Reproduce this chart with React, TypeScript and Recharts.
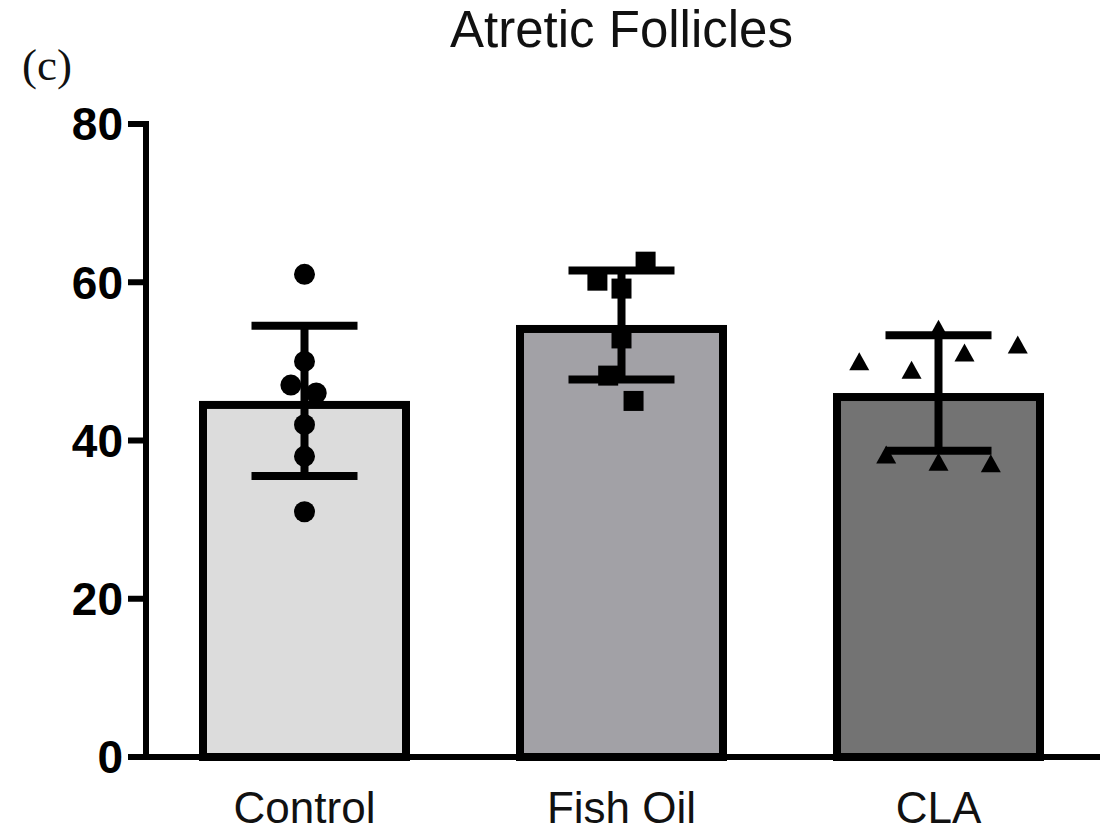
import { Bar, Cell, ComposedChart, ErrorBar, Scatter, XAxis, YAxis } from "recharts"

const groups = ["Control", "Fish Oil", "CLA"]
const means = [45, 54.6, 46]
const sds = [9.5, 6.9, 7.3]
const yTicks = [0, 20, 40, 60, 80]

// individual values per group; jitter is a small offset on the numeric x axis
const controlValues = [61, 50, 47, 46, 42, 38, 31]
const controlJitter = [0, 0, -0.043, 0.037, 0, 0, 0]
const fishOilValues = [62.6, 60.2, 59.2, 52.9, 48.2, 45]
const fishOilJitter = [0.076, -0.076, 0, 0, -0.042, 0.038]
const claValues = [54, 52, 51, 49.9, 48.8, 38.1, 37.2, 37]
const claJitter = [0, 0.25, 0.082, -0.25, -0.085, -0.165, 0, 0.165]

const barFills = ["#dcdcdc", "#a2a1a6", "#737373"]
const FONT = "'Liberation Sans', Arial, Helvetica, sans-serif"
const BORDER = 8

const barData = groups.map((group, i) => ({ group, value: means[i], sd: sds[i] }))

const toPoints = (groupIndex: number, values: number[], jitter: number[]) =>
  values.map((value, i) => ({ x: groupIndex + 0.5 + jitter[i], value }))

const controlPoints = toPoints(0, controlValues, controlJitter)
const fishOilPoints = toPoints(1, fishOilValues, fishOilJitter)
const claPoints = toPoints(2, claValues, claJitter)

// outline drawn inside the bar so the outer edge sits on the mean
const OutlinedBar = (props: any) => {
  const { x, y, width, height, fill } = props
  if (width == null || height == null) return null
  return (
    <rect
      x={x + BORDER / 2}
      y={y + BORDER / 2}
      width={Math.max(width - BORDER, 0)}
      height={Math.max(height - BORDER / 2, 0)}
      fill={fill}
      stroke="#000"
      strokeWidth={BORDER}
    />
  )
}

const Dot = (props: any) => <circle cx={props.cx} cy={props.cy} r={10.5} fill="#000" />

const Square = (props: any) => (
  <rect x={props.cx - 10} y={props.cy - 10} width={20} height={20} fill="#000" />
)

const Triangle = (props: any) => {
  const { cx, cy } = props
  return <polygon points={`${cx},${cy - 10} ${cx - 10},${cy + 8} ${cx + 10},${cy + 8}`} fill="#000" />
}

export default function App() {
  return (
    <div style={{ position: "absolute", left: 0, top: 0, width: 1112, height: 834, background: "#fff" }}>
      <ComposedChart
        width={1112}
        height={834}
        data={barData}
        margin={{ top: 124, right: 15, bottom: 0, left: 0 }}
      >
        <XAxis
          xAxisId="cat"
          dataKey="group"
          height={77}
          interval={0}
          tickLine={false}
          tickSize={0}
          tickMargin={35}
          axisLine={{ stroke: "#000", strokeWidth: 6, strokeLinecap: "square" }}
          tick={{ fill: "#111", fontSize: 44, fontFamily: FONT }}
        />
        <XAxis xAxisId="num" type="number" dataKey="x" domain={[0, 3]} allowDataOverflow hide />
        <YAxis
          dataKey="value"
          domain={[0, 80]}
          ticks={yTicks}
          interval={0}
          width={146}
          tickSize={18}
          tickMargin={5}
          axisLine={{ stroke: "#000", strokeWidth: 6, strokeLinecap: "square" }}
          tickLine={{ stroke: "#000", strokeWidth: 6 }}
          tick={{ fill: "#000", fontSize: 46, fontWeight: 700, fontFamily: FONT }}
        />
        <Bar xAxisId="cat" dataKey="value" barSize={211} shape={OutlinedBar} isAnimationActive={false}>
          {barData.map((d, i) => (
            <Cell key={d.group} fill={barFills[i]} />
          ))}
          <ErrorBar dataKey="sd" direction="y" width={53} stroke="#000" strokeWidth={8} isAnimationActive={false} />
        </Bar>
        <Scatter xAxisId="num" data={controlPoints} dataKey="value" shape={Dot} isAnimationActive={false} />
        <Scatter xAxisId="num" data={fishOilPoints} dataKey="value" shape={Square} isAnimationActive={false} />
        <Scatter xAxisId="num" data={claPoints} dataKey="value" shape={Triangle} isAnimationActive={false} />
      </ComposedChart>
      <svg width={1112} height={834} style={{ position: "absolute", left: 0, top: 0, pointerEvents: "none" }}>
        <text x={621.5} y={47} textAnchor="middle" fontSize={51} fontFamily={FONT} fill="#111">
          Atretic Follicles
        </text>
        <text x={22} y={80} fontSize={45} fontFamily="'Liberation Serif', 'Times New Roman', serif" fill="#111">
          (c)
        </text>
      </svg>
    </div>
  )
}
